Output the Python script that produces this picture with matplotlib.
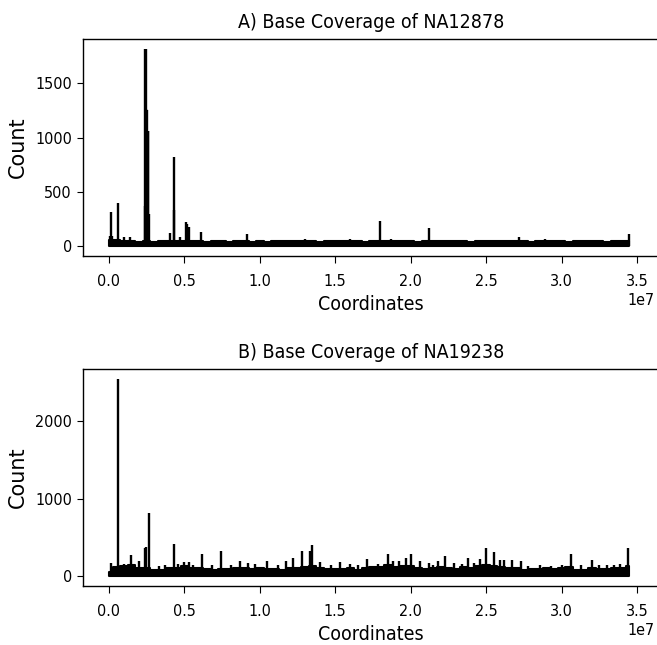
import numpy as np
import matplotlib
matplotlib.use('Agg')
import matplotlib.pyplot as plt
from matplotlib import font_manager as fm
from matplotlib.ticker import MultipleLocator

# ---- data (coordinates in units of 1e7 bp) ----
bin_size = 0.05   # width of one baseline bin

# NA12878: baseline coverage level per bin
a_base = [60, 55, 50, 45, 42, 50, 42, 45, 48, 50,
          50, 48, 45, 42, 44, 46, 42, 44, 46, 42,
          44, 42, 45, 43, 44, 46, 44, 45, 42, 44,
          43, 46, 45, 44, 42, 45, 46, 44, 43, 45,
          44, 42, 44, 46, 45, 43, 44, 45, 42, 44,
          46, 44, 43, 45, 44, 46, 42, 44, 45, 43,
          44, 42, 45, 44, 43, 44, 42, 44, 45, 50]
# NA12878: spikes above baseline
a_spike_x = [0.005, 0.011, 0.020, 0.062, 0.100, 0.140, 0.236, 0.240, 0.243,
             0.246, 0.249, 0.253, 0.257, 0.261, 0.264, 0.404, 0.428,
             0.433, 0.468, 0.512, 0.517, 0.530, 0.607, 0.735, 0.860,
             0.912, 1.300, 1.600, 1.795, 1.870, 2.120, 2.260, 2.720, 2.890,
             3.210, 3.450]
a_spike_y = [90, 316, 90, 393, 80, 86, 370, 1815, 1815,
             1260, 1250, 1060, 1060, 1060, 300, 123, 817,
             330, 80, 218, 200, 178, 132, 60, 60,
             110, 70, 62, 230, 65, 163, 58, 82, 66,
             58, 108]
a_ytick_step = 500

# NA19238: baseline coverage level per bin
b_base = [60, 120, 130, 140, 110, 100, 80, 75, 110, 100,
          130, 110, 100, 90, 80, 95, 90, 110, 100, 90,
          105, 95, 90, 85, 100, 110, 120, 130, 100, 90,
          95, 90, 100, 85, 110, 120, 115, 140, 120, 130,
          125, 110, 95, 105, 120, 100, 90, 120, 110, 130,
          140, 130, 120, 110, 100, 85, 90, 95, 100, 90,
          110, 120, 80, 85, 100, 90, 95, 100, 110, 130]
# NA19238: spikes above baseline
b_spike_x = [0.013, 0.062, 0.146, 0.197, 0.240, 0.245, 0.265, 0.430, 0.500,
             0.530, 0.615, 0.740, 0.870, 0.920, 1.050, 1.170, 1.220, 1.280,
             1.330, 1.345, 1.400, 1.530, 1.600, 1.710, 1.850, 1.880, 1.920,
             1.970, 2.000, 2.060, 2.120, 2.180, 2.230, 2.290, 2.380, 2.460,
             2.500, 2.550, 2.590, 2.620, 2.670, 2.730, 2.860, 2.930, 3.000,
             3.060, 3.200, 3.300, 3.350, 3.440,
             0.100, 0.330, 0.370, 0.460, 0.560, 0.680, 0.810, 0.970, 1.120,
             1.470, 1.650, 1.780, 2.150, 2.340, 2.420, 2.780, 3.130, 3.250,
             3.390]
b_spike_y = [170, 2542, 270, 200, 360, 380, 820, 410, 180,
             180, 280, 320, 190, 170, 200, 190, 230, 330,
             330, 400, 185, 185, 160, 215, 285, 200, 200,
             240, 280, 200, 170, 200, 260, 170, 230, 215,
             360, 315, 205, 205, 205, 200, 140, 130, 140,
             285, 205, 150, 145, 360,
             160, 130, 150, 160, 150, 140, 150, 160, 150,
             150, 140, 160, 150, 160, 170, 130, 140, 150,
             160]
b_ytick_step = 1000

panels = [
    ('A) Base Coverage of NA12878', a_base, a_spike_x, a_spike_y, a_ytick_step),
    ('B) Base Coverage of NA19238', b_base, b_spike_x, b_spike_y, b_ytick_step),
]

# ---- fonts: the reference text is narrow, use a condensed face if there is one ----
narrow = None
for f in fm.fontManager.ttflist:
    if f.name == 'DejaVu Sans' and 'Condensed' in f.fname and 'Bold' not in f.fname \
            and 'Oblique' not in f.fname:
        narrow = fm.FontProperties(fname=f.fname)
        scale = 1.0
        break
if narrow is None:
    names = {f.name for f in fm.fontManager.ttflist}
    if 'Liberation Sans Narrow' in names:
        narrow = fm.FontProperties(family='Liberation Sans Narrow')
        scale = 1.05
    else:
        narrow = fm.FontProperties(family='DejaVu Sans')
        scale = 0.9


def nfont(size):
    p = narrow.copy()
    p.set_size(size * scale)
    return p


plt.rcParams['axes.linewidth'] = 1.0

W, H = 657, 645
fig = plt.figure(figsize=(W / 100, H / 100), dpi=100)

# axes boxes in pixels: left, top, right, bottom
boxes = [(83, 39.3, 658.5, 256), (83, 369.3, 658.5, 586)]

for (title, base, sx, sy, ystep), (l, t, r, b) in zip(panels, boxes):
    ax = fig.add_axes([l / W, 1 - b / H, (r - l) / W, (b - t) / H])
    centers = np.arange(len(base)) * bin_size
    ax.fill_between(centers * 1e7, 0, base, step='mid',
                    facecolor='black', edgecolor='black', linewidth=1.5)
    ax.vlines(np.array(sx) * 1e7, 0, sy, color='black', linewidth=1.7)
    ax.set_xlim(-0.1723e7, 3.6424e7)
    ax.yaxis.set_major_locator(MultipleLocator(ystep))

    ax.set_title(title, fontproperties=nfont(14), pad=8)
    ax.set_xlabel('Coordinates', fontproperties=nfont(14), labelpad=4)
    ax.set_ylabel('Count', fontsize=15, family='DejaVu Sans', labelpad=5)
    ax.tick_params(axis='x', length=5, pad=8)
    ax.tick_params(axis='y', length=4, pad=4)
    for lab in ax.get_xticklabels() + ax.get_yticklabels():
        lab.set_fontproperties(nfont(11.5))
    fig.canvas.draw()
    off = ax.xaxis.get_offset_text()
    off.set_fontproperties(nfont(11.5))
    # keep "1e7" inside the picture, as in the reference
    off.set_x((655 - l) / (r - l))

fig.savefig('out.png', dpi=100)
